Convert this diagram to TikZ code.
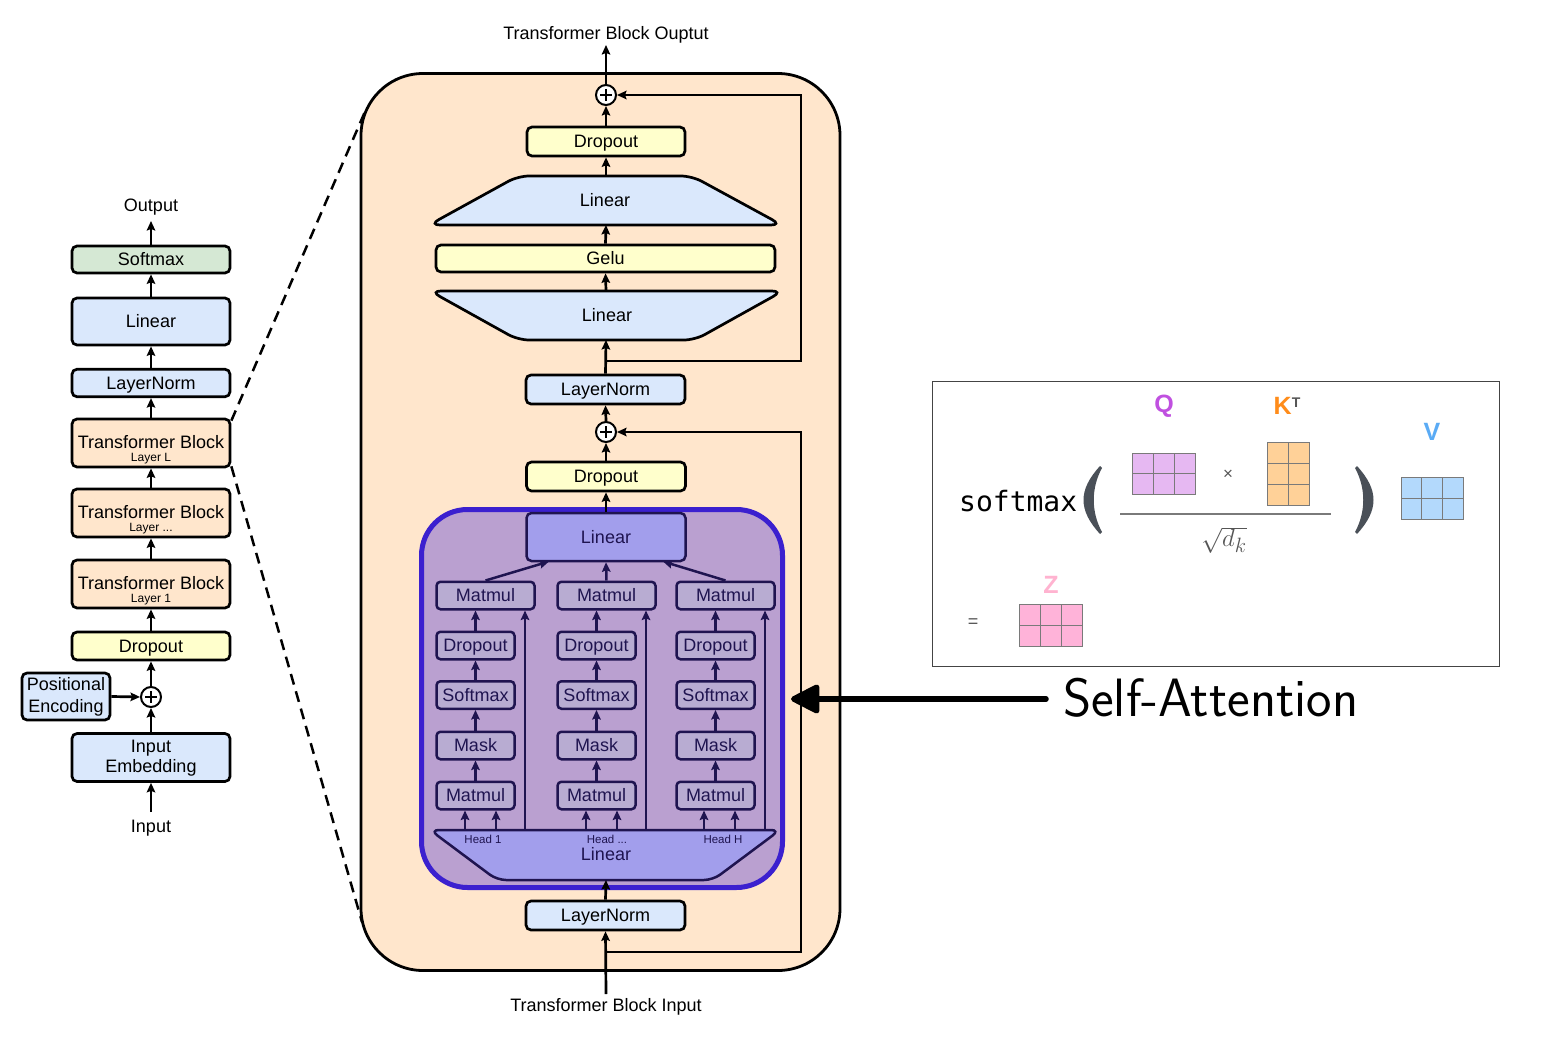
\documentclass[tikz,border=0pt]{standalone}
\usepackage{fontspec}
\setmainfont{Liberation Sans}
\newfontfamily\monofont{DejaVu Sans Mono}
\usetikzlibrary{arrows.meta,calc}
\definecolor{cblue}{HTML}{DAE8FC}
\definecolor{cgreen}{HTML}{D5E8D4}
\definecolor{corange}{HTML}{FFE6CC}
\definecolor{cyellow}{HTML}{FFFFCC}
\definecolor{cattf}{HTML}{BAA0D0}
\definecolor{cattb}{HTML}{3B20CF}
\definecolor{cbox}{HTML}{B8ACD2}
\definecolor{clin}{HTML}{A29EEC}
\definecolor{cnavy}{HTML}{1F1450}
\definecolor{cgrid}{HTML}{7A7A7A}
\definecolor{cparen}{HTML}{4A5058}
\definecolor{cq}{HTML}{C050E0}
\definecolor{cqf}{HTML}{E6B8F2}
\definecolor{ck}{HTML}{FF8C1A}
\definecolor{ckf}{HTML}{FFD198}
\definecolor{cv}{HTML}{5AABF5}
\definecolor{cvf}{HTML}{B3D9FC}
\definecolor{cz}{HTML}{FFB3D0}
\definecolor{czf}{HTML}{FFB3D9}
\definecolor{cfrm}{HTML}{444444}
\definecolor{cgr}{HTML}{555555}
\begin{document}
\begin{tikzpicture}[x=1pt,y=-1pt,
 lbl/.style={font=\fontsize{18}{21}\selectfont, text height=12.9pt, text depth=0pt, inner sep=0pt},
 sml/.style={font=\fontsize{12}{14}\selectfont, text height=8.6pt, text depth=0pt, inner sep=0pt},
 tny/.style={font=\fontsize{11.5}{13}\selectfont, text height=8.2pt, text depth=0pt, inner sep=0pt, text=cnavy},
 box/.style={lbl, draw, line width=2.7pt, rounded corners=5pt},
 abox/.style={lbl, draw=cnavy, text=cnavy, fill=cbox, line width=2.5pt, rounded corners=4pt, minimum height=27.5pt},
 arr/.style={line width=2.7pt, -{Stealth[length=9.5pt,width=8.5pt,inset=1.5pt]}},
 darr/.style={arr, draw=cnavy, line width=2.5pt},
 pls/.style={circle, draw, fill=white, line width=2pt, minimum size=20pt, inner sep=0pt},
 grd/.style={draw=cgrid, line width=1pt},
 lbig/.style={font=\bfseries\fontsize{25}{28}\selectfont, inner sep=0pt},
]
\fill[white] (0,0) rectangle (1564,1038);
\useasboundingbox (0,0) rectangle (1564,1038);

% ================= Left column =================
\node[lbl] (outtxt) at (151,205.5) {Output};
\coordinate (outtip) at (151,221);
\node[box, fill=cgreen, minimum width=158pt, minimum height=27pt] (lsm) at (151,259.5) {Softmax};
\node[box, fill=cblue, minimum width=158pt, minimum height=47pt] (llin) at (151,321.5) {Linear};
\node[box, fill=cblue, minimum width=158pt, minimum height=27.5pt] (lln) at (151,383) {LayerNorm};
\node[box, fill=corange, minimum width=158pt, minimum height=48pt] (tbL) at (151,443) {};
\node[lbl] (tbLt) at (151,442.5) {Transformer Block};
\node[sml] (tbLs) at (151,457.5) {Layer L};
\node[box, fill=corange, minimum width=158pt, minimum height=48pt] (tbM) at (151,513) {};
\node[lbl] (tbMt) at (151,512.5) {Transformer Block};
\node[sml] (tbMs) at (151,527.5) {Layer ...};
\node[box, fill=corange, minimum width=158pt, minimum height=48pt] (tb1) at (151,584) {};
\node[lbl] (tb1t) at (151,583.5) {Transformer Block};
\node[sml] (tb1s) at (151,598.5) {Layer 1};
\node[box, fill=cyellow, minimum width=158pt, minimum height=28pt] (ldo) at (151,646) {Dropout};
\node[pls] (pl) at (151,697) {};
\node[box, fill=cblue, minimum width=88pt, minimum height=47pt] (pe) at (66,696.5) {};
\node[lbl] (pet1) at (66,684.5) {Positional};
\node[lbl] (pet2) at (66,706.5) {Encoding};
\node[box, fill=cblue, minimum width=158pt, minimum height=48pt] (ie) at (151,757.5) {};
\node[lbl] (iet1) at (151,746) {Input};
\node[lbl] (iet2) at (151,766.5) {Embedding};
\node[lbl] (intxt) at (151,826.5) {Input};
\coordinate (instart) at (151,812);

\draw[arr] (instart) -- (ie.south);
\draw[arr] (ie.north) -- (pl.south);
\draw[arr] (pe.east) -- (pl.west);
\draw[arr] (pl.north) -- (ldo.south);
\draw[arr] (ldo.north) -- (tb1.south);
\draw[arr] (tb1.north) -- (tbM.south);
\draw[arr] (tbM.north) -- (tbL.south);
\draw[arr] (tbL.north) -- (lln.south);
\draw[arr] (lln.north) -- (llin.south);
\draw[arr] (llin.north) -- (lsm.south);
\draw[arr] (lsm.north) -- (outtip);

% ================= Middle block =================
\node[draw, fill=corange, line width=2.8pt, rounded corners=62pt, minimum width=479pt, minimum height=897pt, inner sep=0pt] (mblk) at (600.5,522) {};
\coordinate (dtop) at (367,107);
\coordinate (dbot) at (362,922);
\draw[line width=2.5pt, dash pattern=on 11pt off 7pt] ($(tbL.north east)+(0,3)$) -- (dtop);
\draw[line width=2.5pt, dash pattern=on 11pt off 7pt] ($(tbL.south east)+(0,-2)$) -- (dbot);

\node[lbl] (mout) at (606,33) {Transformer Block Ouptut};
\coordinate (mouttip) at (606,45);
\node[pls] (p1) at (606,95) {};
\node[box, fill=cyellow, minimum width=158pt, minimum height=29pt] (mdo1) at (606,141.5) {Dropout};
% upper Linear (wide at bottom)
\coordinate (l1t) at (606,176);
\coordinate (l1b) at (606,225);
\draw[fill=cblue, line width=2.7pt, rounded corners=11pt] (429,225) -- (518,176) -- (692,176) -- (782,225) -- cycle;
\node[lbl] (l1txt) at (605,200) {Linear};
\node[box, fill=cyellow, minimum width=339pt, minimum height=27pt] (gelu) at (605.5,258.5) {Gelu};
% lower Linear (wide at top)
\coordinate (l2t) at (606,291);
\coordinate (l2b) at (606,340);
\draw[fill=cblue, line width=2.7pt, rounded corners=11pt] (430,291) -- (783,291) -- (695,340) -- (518,340) -- cycle;
\node[lbl] (l2txt) at (607,315) {Linear};
\node[box, fill=cblue, minimum width=159pt, minimum height=29pt] (mln2) at (605.5,389.5) {LayerNorm};
\node[pls] (p2) at (606,432) {};
\node[box, fill=cyellow, minimum width=159pt, minimum height=29pt] (mdo2) at (606,476.5) {Dropout};

% attention block
\node[draw=cattb, fill=cattf, line width=5pt, rounded corners=46pt, minimum width=361pt, minimum height=378pt, inner sep=0pt] (att) at (602,698.5) {};
\node[lbl, draw=cnavy, text=cnavy, fill=clin, line width=2.5pt, rounded corners=5pt, minimum width=159pt, minimum height=48pt] (alin) at (606,537) {Linear};
% head trapezoid
\draw[draw=cnavy, fill=clin, line width=2.5pt, rounded corners=9pt] (430,830) -- (780,830) -- (713,880) -- (497,880) -- cycle;
\coordinate (htb) at (606,880);
\node[tny] (hd1) at (483,839) {Head 1};
\node[tny] (hd2) at (607,839) {Head ...};
\node[tny] (hd3) at (723,839) {Head H};
\node[lbl, text=cnavy] (hlin) at (606,854.5) {Linear};

\foreach \i/\cx/\tx/\vx/\ha/\hb in {1/475.5/485.5/525/465/496, 2/596.5/606.5/646/586/617, 3/715.5/725.5/765/704/735} {
  \node[abox, minimum width=98pt] (mt\i) at (\tx,595.5) {Matmul};
  \node[abox, minimum width=78pt] (ad\i) at (\cx,645.5) {Dropout};
  \node[abox, minimum width=78pt] (as\i) at (\cx,695) {Softmax};
  \node[abox, minimum width=78pt] (ak\i) at (\cx,745.5) {Mask};
  \node[abox, minimum width=78pt] (ab\i) at (\cx,795.5) {Matmul};
  \coordinate (hv\i) at (\vx,830);
  \coordinate (ha\i) at (\ha,830);
  \coordinate (hb\i) at (\hb,830);
  \draw[darr] (ha\i) -- (ha\i |- ab\i.south);
  \draw[darr] (hb\i) -- (hb\i |- ab\i.south);
  \draw[darr] (ab\i.north) -- (ak\i.south);
  \draw[darr] (ak\i.north) -- (as\i.south);
  \draw[darr] (as\i.north) -- (ad\i.south);
  \draw[darr] (ad\i.north) -- (ad\i.north |- mt\i.south);
  \draw[darr] (hv\i) -- (hv\i |- mt\i.south);
}
\coordinate (alinL) at (549,561.5);
\coordinate (alinR) at (663,561.5);
\draw[darr] (mt1.north) -- (alinL);
\draw[darr] (mt2.north) -- (alin.south);
\draw[darr] (mt3.north) -- (alinR);

\node[box, fill=cblue, minimum width=159pt, minimum height=29pt] (mln1) at (605.5,915.5) {LayerNorm};
\node[lbl] (minp) at (606,1005) {Transformer Block Input};
\coordinate (minstart) at (606,994);

% middle arrows
\draw[arr] (minstart) -- (mln1.south);
\draw[arr] (mln1.north) -- (htb);
\draw[arr] (alin.north) -- (mdo2.south);
\draw[arr] (mdo2.north) -- (p2.south);
\draw[arr] (p2.north) -- (mln2.south);
\draw[arr] (mln2.north) -- (l2b);
\draw[arr] (l2t) -- (gelu.south);
\draw[arr] (gelu.north) -- (l1b);
\draw[arr] (l1t) -- (mdo1.south);
\draw[arr] (mdo1.north) -- (p1.south);
\draw[arr] (p1.north) -- (mouttip);
% residuals
\coordinate (j1) at (606,361);
\coordinate (r1) at (801,361);
\draw[arr] (j1) -- (r1) |- (p1.east);
\coordinate (j2) at (606,952);
\coordinate (r2) at (801,952);
\draw[arr] (j2) -- (r2) |- (p2.east);

\foreach \p in {pl,p1,p2}
  \draw[line width=1.7pt] ($(\p)+(-6,0)$) -- ($(\p)+(6,0)$) ($(\p)+(0,-6)$) -- ($(\p)+(0,6)$);

% ================= Self-Attention =================
\node[font=\sffamily\fontsize{54}{58}\selectfont, anchor=west, inner sep=0pt] (satxt) at (1063,698) {Self-Attention};
\coordinate (sas) at (1046,699);
\draw[line width=5.5pt, line cap=round, -{Triangle[length=32pt,width=31pt,round]}] (sas) -- ($(att.east)+(6,0.5)$);

% ================= Formula box =================
\node[draw=cfrm, fill=white, line width=1.4pt, minimum width=567pt, minimum height=285pt, inner sep=0pt] (fbox) at (1216,524) {};
\node[font=\monofont\fontsize{28}{30}\selectfont, anchor=base west, inner sep=0pt] (smx) at (959,511) {softmax};
\fill[cparen] (1100,466) .. controls (1078,490) and (1078,510) .. (1100,534) -- (1102,532) .. controls (1091,512) and (1091,488) .. (1102,468) -- cycle;
\fill[cparen] (1357,466) .. controls (1379,490) and (1379,510) .. (1357,534) -- (1355,532) .. controls (1366,512) and (1366,488) .. (1355,468) -- cycle;
% Q
\node[lbig, text=cq] (ql) at (1164,406) {Q};
\fill[cqf] (1132,453) rectangle (1195,494);
\draw[grd] (1132,453) rectangle (1195,494) (1153,453) -- (1153,494) (1174,453) -- (1174,494) (1132,473.5) -- (1195,473.5);
\node[font=\fontsize{17}{18}\selectfont, text=cgr, inner sep=0pt] (tms) at (1228,475) {×};
% K^T
\node[lbig, text=ck] (kl) at (1287,406) {K\raisebox{7.5pt}{\fontsize{14}{14}\selectfont\color{cgr}T}};
\fill[ckf] (1267,442) rectangle (1309,505);
\draw[grd] (1267,442) rectangle (1309,505) (1288,442) -- (1288,505) (1267,463) -- (1309,463) (1267,484) -- (1309,484);
% fraction
\draw[draw=cgrid, line width=1.6pt] (1120,514) -- (1331,514);
\node[font=\fontsize{24.88}{28}\selectfont, text=cgr, inner sep=0pt] (sq) at (1224,540) {$\sqrt{d_k}$};
% V
\node[lbig, text=cv] (vl) at (1432,432) {V};
\fill[cvf] (1401,477) rectangle (1463,519);
\draw[grd] (1401,477) rectangle (1463,519) (1421.7,477) -- (1421.7,519) (1442.3,477) -- (1442.3,519) (1401,498) -- (1463,498);
% = Z
\node[font=\fontsize{18}{20}\selectfont, text=cgr, inner sep=0pt] (eq) at (973,623) {=};
\node[lbig, text=cz] (zl) at (1051,585) {Z};
\fill[czf] (1019,604) rectangle (1082,646);
\draw[grd] (1019,604) rectangle (1082,646) (1040,604) -- (1040,646) (1061,604) -- (1061,646) (1019,625) -- (1082,625);
\end{tikzpicture}
\end{document}
